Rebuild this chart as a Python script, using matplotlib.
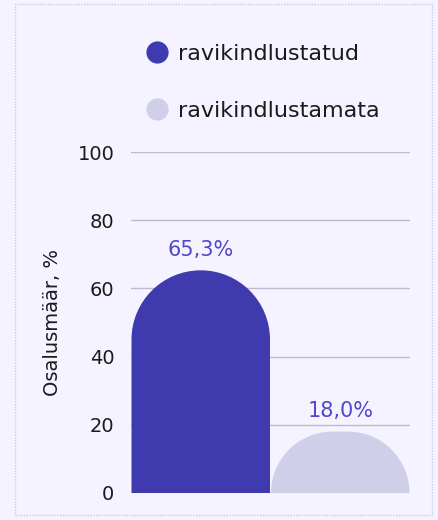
import matplotlib.pyplot as plt
from matplotlib.path import Path
from matplotlib.patches import PathPatch, FancyBboxPatch
from matplotlib.lines import Line2D
from matplotlib.transforms import IdentityTransform

# data
categories = ["ravikindlustatud", "ravikindlustamata"]
values = [65.3, 18.0]
labels = ["65,3%", "18,0%"]
colors = ["#3f3aae", "#d0cfea"]
yticks = [0, 20, 40, 60, 80, 100]

bg = "#f5f3ff"
plt.rcParams['font.family'] = ['DejaVu Sans']

fig = plt.figure(figsize=(4.38, 5.20), dpi=100, facecolor=bg)
ax = fig.add_axes([131/438, 27/520, 279/438, 341/520])
ax.set_facecolor(bg)

bars = ax.bar(range(len(values)), values, width=1.0, color=colors, zorder=2)
ax.set_xlim(-0.5, 1.5)
ax.set_ylim(0, 100)
ax.set_yticks(yticks)
ax.tick_params(axis='y', length=0, labelsize=14, pad=12, labelcolor="#1a1a1a")
ax.set_xticks([])
for s in ax.spines.values():
    s.set_visible(False)
ax.grid(axis='y', color="#bebbd0", linewidth=1, zorder=1)
ax.set_ylabel("Osalusmäär, %", fontsize=14, color="#1a1a1a", labelpad=11)

# rounded-top bars drawn in pixel space
fig.canvas.draw()
for b in bars:
    b.set_visible(False)
    (x0, y0), (x1, y1) = ax.transData.transform([(b.get_x(), 0), (b.get_x() + b.get_width(), b.get_height())])
    x0 += 0.5
    x1 -= 0.5
    w = x1 - x0
    h = y1 - y0
    r = min(w / 2, h)
    k = 0.5523
    verts = [(x0, y0), (x0, y1 - r),
             (x0, y1 - r + k * r), (x0 + r - k * r, y1), (x0 + r, y1),
             (x1 - r, y1),
             (x1 - r + k * r, y1), (x1, y1 - r + k * r), (x1, y1 - r),
             (x1, y0), (x0, y0)]
    codes = [Path.MOVETO, Path.LINETO,
             Path.CURVE4, Path.CURVE4, Path.CURVE4,
             Path.LINETO,
             Path.CURVE4, Path.CURVE4, Path.CURVE4,
             Path.LINETO, Path.CLOSEPOLY]
    p = PathPatch(Path(verts, codes), facecolor=b.get_facecolor(), edgecolor='none',
                  transform=IdentityTransform(), zorder=3)
    fig.add_artist(p)

for i, v in enumerate(values):
    ax.text(i, v + 3, labels[i], ha='center', va='bottom', fontsize=15, color="#5248c8", zorder=4)

# legend
handles = [Line2D([], [], marker='o', linestyle='none', markersize=16,
                  markerfacecolor=c, markeredgecolor='none') for c in colors]
fig.legend(handles, categories, loc='upper left', bbox_to_anchor=(144/438, 1 - 44/520),
           frameon=False, fontsize=16, labelspacing=1.65, handletextpad=0.4,
           handlelength=1.15, borderaxespad=0, borderpad=0, labelcolor="#1a1a1a")

# dotted border
fig.add_artist(FancyBboxPatch((15/438, 5/520), 417/438, 511/520, boxstyle='square,pad=0',
                              transform=fig.transFigure, facecolor='none',
                              edgecolor="#cfcbe6", linestyle=(0, (1, 1)), linewidth=1))

fig.savefig("out.png", dpi=100, facecolor=bg)
